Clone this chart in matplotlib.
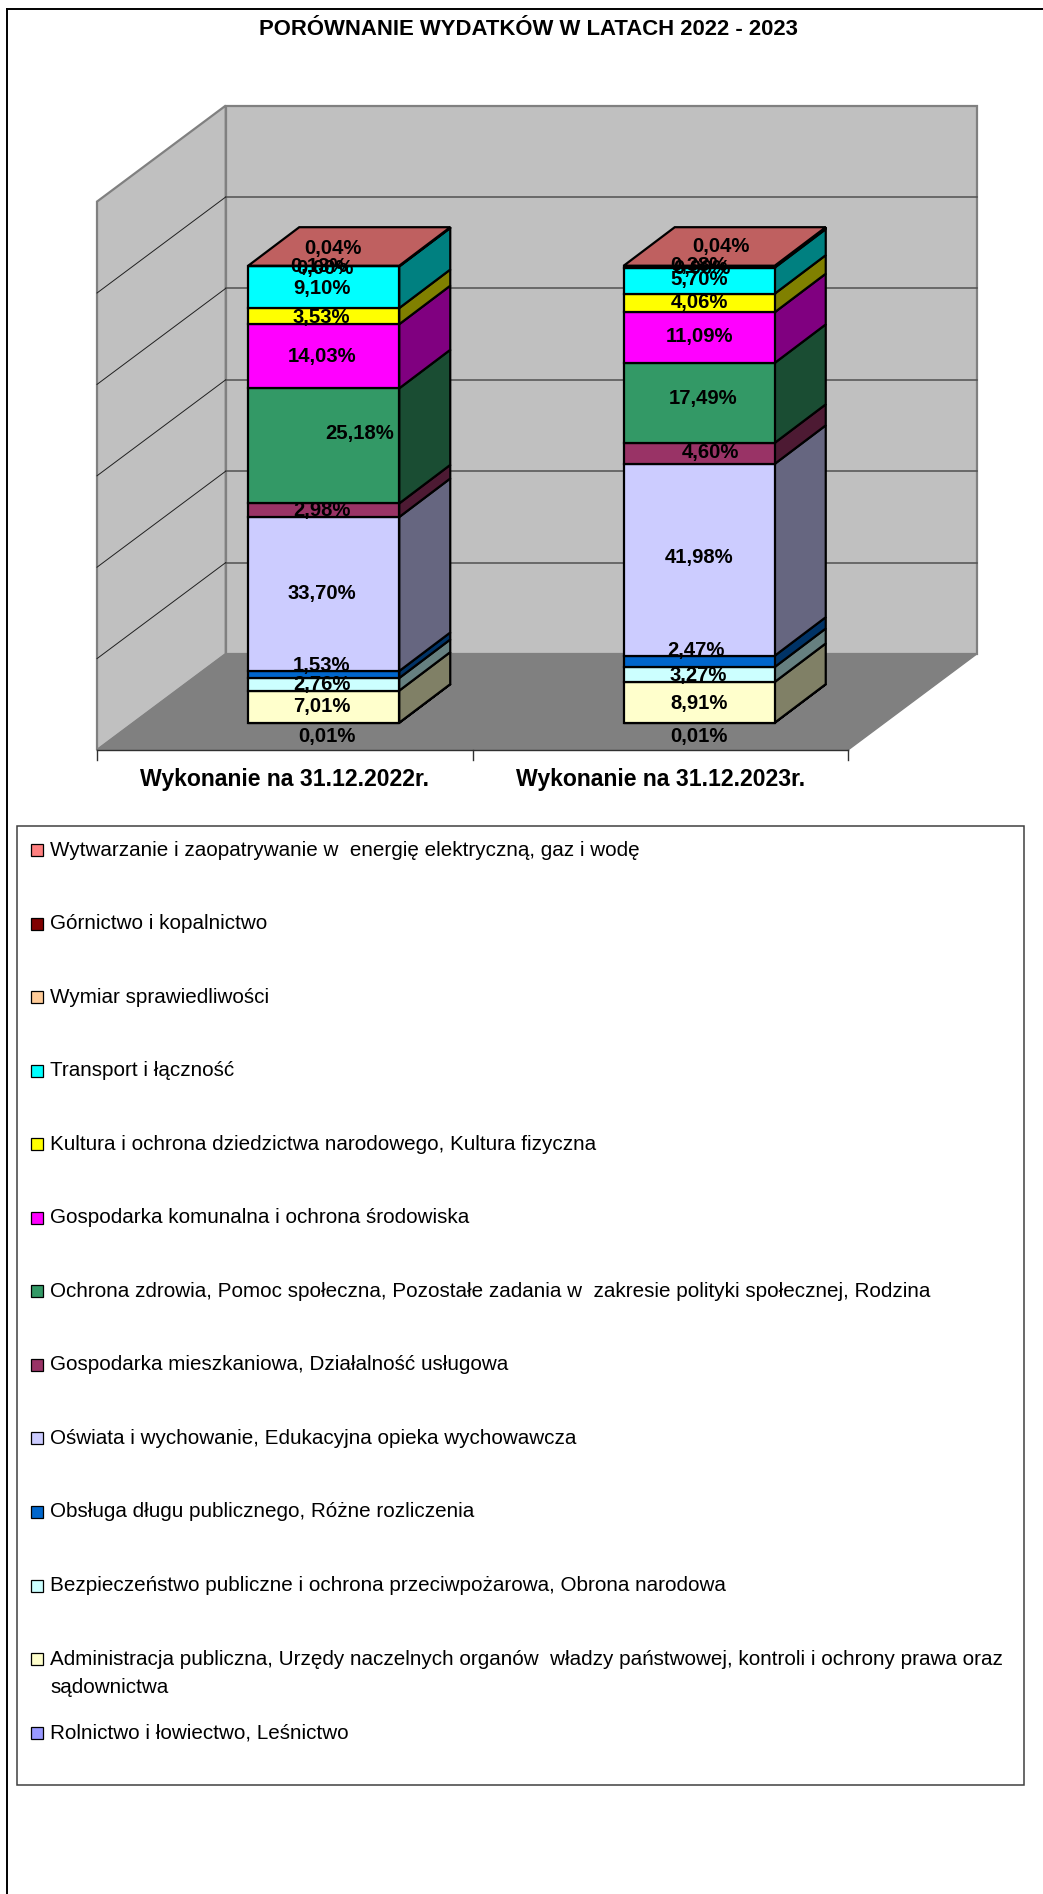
import matplotlib
matplotlib.use('Agg')
import matplotlib.pyplot as plt
from matplotlib.patches import Polygon, Rectangle

plt.rcParams['font.family'] = ['Liberation Sans', 'DejaVu Sans']

title = 'PORÓWNANIE WYDATKÓW W LATACH 2022 - 2023'
categories = ['Wykonanie na 31.12.2022r.', 'Wykonanie na 31.12.2023r.']

# order is bottom of the stack to top
series = ['Rolnictwo i łowiectwo, Leśnictwo',
          'Administracja publiczna, Urzędy naczelnych organów  władzy państwowej, kontroli i ochrony prawa oraz\nsądownictwa',
          'Bezpieczeństwo publiczne i ochrona przeciwpożarowa, Obrona narodowa',
          'Obsługa długu publicznego, Różne rozliczenia',
          'Oświata i wychowanie, Edukacyjna opieka wychowawcza',
          'Gospodarka mieszkaniowa, Działalność usługowa',
          'Ochrona zdrowia, Pomoc społeczna, Pozostałe zadania w  zakresie polityki społecznej, Rodzina',
          'Gospodarka komunalna i ochrona środowiska',
          'Kultura i ochrona dziedzictwa narodowego, Kultura fizyczna',
          'Transport i łączność',
          'Wymiar sprawiedliwości',
          'Górnictwo i kopalnictwo',
          'Wytwarzanie i zaopatrywanie w  energię elektryczną, gaz i wodę']
values_2022 = [0.01, 7.01, 2.76, 1.53, 33.70, 2.98, 25.18, 14.03, 3.53, 9.10, 0.13, 0.00, 0.04]
values_2023 = [0.01, 8.91, 3.27, 2.47, 41.98, 4.60, 17.49, 11.09, 4.06, 5.70, 0.38, 0.00, 0.04]
colors = ['#9999FF', '#FFFFCC', '#CCFFFF', '#0066CC', '#CCCCFF', '#993366', '#339966',
          '#FF00FF', '#FFFF00', '#00FFFF', '#FFCC99', '#800000', '#FF8080']
ticks = [0, 20, 40, 60, 80, 100, 120]

# label nudges in pixels from the middle of each front face
nudge_2022 = [(3, 14), (-2, 0), (-2, 0), (-2, -9), (-2, -1), (-2, 0), (36, -12), (-2, 0), (-2, 1), (-2, 1), (-5, 0), (1, 3), (9, -17)]
nudge_2023 = [(0, 14), (0, 1), (-1, 1), (-3, -11), (0, -2), (11, -1), (4, -4), (0, -1), (0, 0), (0, -1), (0, -1), (3, 3), (22, -19)]

# chart box, in pixels
x0, x1 = 97.0, 848.0
y0 = 750.0
per_unit = 4.57
wall_dx, wall_dy = 128.7, 96.0
bar_w = 151.0
bar_dx, bar_dy = 51.0, 38.5
bar_off_x, bar_off_y = 39.0, 27.3


def val_y(v):
    return y0 - v * per_unit


def shade(hex_color, f):
    r, g, b = matplotlib.colors.to_rgb(hex_color)
    return (r * f, g * f, b * f)


fig = plt.figure(figsize=(10.43, 18.94), dpi=100)
ax = fig.add_axes([0, 0, 1, 1])
ax.set_xlim(0, 1043)
ax.set_ylim(1894, 0)
ax.axis('off')

# outer frame has only top and left lines visible
ax.plot([6.5, 1043], [8.5, 8.5], color='black', lw=1.4, zorder=1)
ax.plot([6.5, 6.5], [8.5, 1894], color='black', lw=1.4, zorder=1)

ax.text(528, 29, title, ha='center', va='center', fontsize=15.9, fontweight='bold')

# walls and floor
top = val_y(ticks[-1])
ax.add_patch(Polygon([(x0 + wall_dx, y0 - wall_dy), (x1 + wall_dx, y0 - wall_dy),
                      (x1 + wall_dx, top - wall_dy), (x0 + wall_dx, top - wall_dy)],
                     fc='#C0C0C0', ec='#808080', lw=1.6, zorder=2))
ax.add_patch(Polygon([(x0, y0), (x0 + wall_dx, y0 - wall_dy),
                      (x0 + wall_dx, top - wall_dy), (x0, top)],
                     fc='#C0C0C0', ec='#808080', lw=1.6, zorder=2))
ax.add_patch(Polygon([(x0, y0), (x1, y0), (x1 + wall_dx, y0 - wall_dy), (x0 + wall_dx, y0 - wall_dy)],
                     fc='#808080', ec='#808080', lw=1, zorder=3))
for t in ticks[1:-1]:
    y = val_y(t)
    ax.plot([x0 + wall_dx, x1 + wall_dx], [y - wall_dy, y - wall_dy], color='#505050', lw=1.1, zorder=3)
    ax.plot([x0, x0 + wall_dx], [y, y - wall_dy], color='#202020', lw=0.7, zorder=3)

# category axis
cat_w = (x1 - x0) / len(categories)
ax.plot([x0, x1], [y0, y0], color='#303030', lw=1, zorder=4)
for i in range(len(categories) + 1):
    ax.plot([x0 + i * cat_w] * 2, [y0, y0 + 10], color='#303030', lw=1, zorder=4)
for i, c in enumerate(categories):
    ax.text(x0 + (i + 0.5) * cat_w, 779, c, ha='center', va='center', fontsize=16.6, fontweight='bold', zorder=6)

# stacked bars
for i, (vals, nudge) in enumerate(zip([values_2022, values_2023], [nudge_2022, nudge_2023])):
    cx = x0 + (i + 0.5) * cat_w + bar_off_x
    left, right = cx - bar_w / 2, cx + bar_w / 2
    base = 0.0
    labels = []
    for v, col, (nx, ny) in zip(vals, colors, nudge):
        yb = val_y(base) - bar_off_y
        yt = val_y(base + v) - bar_off_y
        if v > 0:
            ax.add_patch(Polygon([(right, yb), (right + bar_dx, yb - bar_dy),
                                  (right + bar_dx, yt - bar_dy), (right, yt)],
                                 fc=shade(col, 0.5), ec='black', lw=1.6, zorder=5))
            ax.add_patch(Rectangle((left, yt), bar_w, yb - yt, fc=col, ec='black', lw=1.6, zorder=5))
        labels.append((cx + nx, (yb + yt) / 2 + ny, v))
        base += v
    yt = val_y(base) - bar_off_y
    ax.add_patch(Polygon([(left, yt), (right, yt), (right + bar_dx, yt - bar_dy), (left + bar_dx, yt - bar_dy)],
                         fc=shade(colors[-1], 0.75), ec='black', lw=1.6, zorder=5))
    for lx, ly, v in labels:
        ax.text(lx, ly, f'{v:.2f}'.replace('.', ',') + '%', ha='center', va='center',
                fontsize=14.6, fontweight='bold', zorder=7)

# legend, top entry is the top of the stack
ax.add_patch(Rectangle((16.5, 825.5), 1007.5, 959.5, fc='white', ec='#404040', lw=1.1, zorder=2))
for k, (name, col) in enumerate(zip(series[::-1], colors[::-1])):
    y = 850 + k * 73.55
    ax.add_patch(Rectangle((32, y - 5), 12, 12, fc='#A0A0A0', ec='none', zorder=3))
    ax.add_patch(Rectangle((31, y - 6), 12, 12, fc=col, ec='black', lw=0.9, zorder=4))
    for j, line in enumerate(name.split('\n')):
        ax.text(50, y + j * 28, line, ha='left', va='center', fontsize=14.9, zorder=4)

fig.savefig('out.png', dpi=100)
